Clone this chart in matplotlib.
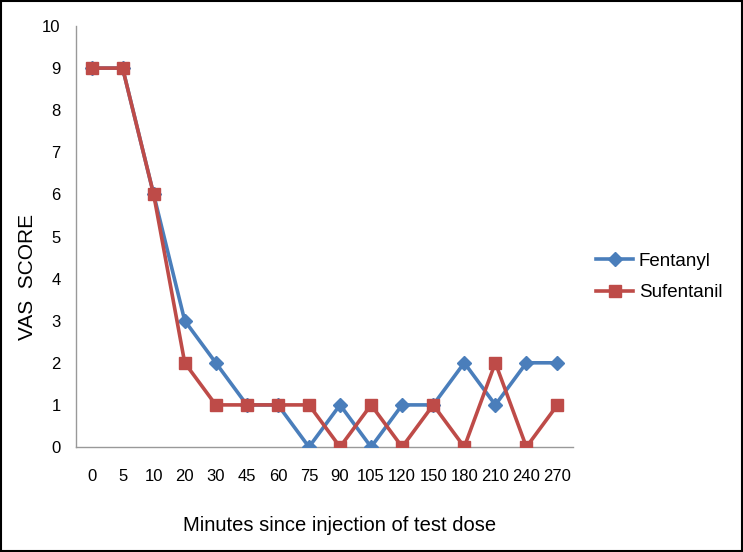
import numpy as np
import matplotlib.pyplot as plt
from matplotlib.patches import Rectangle

plt.rcParams['font.family'] = ['Liberation Sans', 'DejaVu Sans']

# data
minutes = ["0", "5", "10", "20", "30", "45", "60", "75", "90", "105",
           "120", "150", "180", "210", "240", "270"]
fentanyl = [9, 9, 6, 3, 2, 1, 1, 0, 1, 0, 1, 1, 2, 1, 2, 2]
sufentanil = [9, 9, 6, 2, 1, 1, 1, 1, 0, 1, 0, 1, 0, 2, 0, 1]

fig = plt.figure(figsize=(7.43, 5.52), dpi=100)
ax = fig.add_axes([0.1023, 0.1902, 0.6689, 0.7627])

x = np.arange(len(minutes))
ax.plot(x, fentanyl, color="#4A7EBB", lw=2.6, marker="D", markersize=7,
        label="Fentanyl", zorder=3)
ax.plot(x, sufentanil, color="#BE4B48", lw=2.6, marker="s", markersize=9,
        label="Sufentanil", zorder=4)

ax.set_xlim(-0.5, len(minutes) - 0.5)
ax.set_ylim(0, 10)
ax.set_yticks(range(0, 11))
ax.set_xticks(x)
ax.set_xticklabels(minutes)
ax.tick_params(length=0, labelsize=12)
ax.tick_params(axis="x", pad=16)
ax.tick_params(axis="y", pad=11)
for s in ["top", "right"]:
    ax.spines[s].set_visible(False)
for s in ["left", "bottom"]:
    ax.spines[s].set_color("#999999")
    ax.spines[s].set_linewidth(1.0)

ax.set_ylabel("VAS  SCORE", fontsize=15)
ax.yaxis.set_label_coords(-0.078, 0.404)
ax.set_xlabel("Minutes since injection of test dose", fontsize=14.5)
ax.xaxis.set_label_coords(0.53, -0.165)

ax.legend(loc="center left", bbox_to_anchor=(1.012, 0.404), frameon=False,
          fontsize=13.5, handlelength=2.0, handletextpad=0.3, labelspacing=0.75)

fig.patches.append(Rectangle((0.002, 0.002), 0.996, 0.996, transform=fig.transFigure,
                             fill=False, edgecolor="black", linewidth=1.5))

fig.savefig("out.png", dpi=100)
